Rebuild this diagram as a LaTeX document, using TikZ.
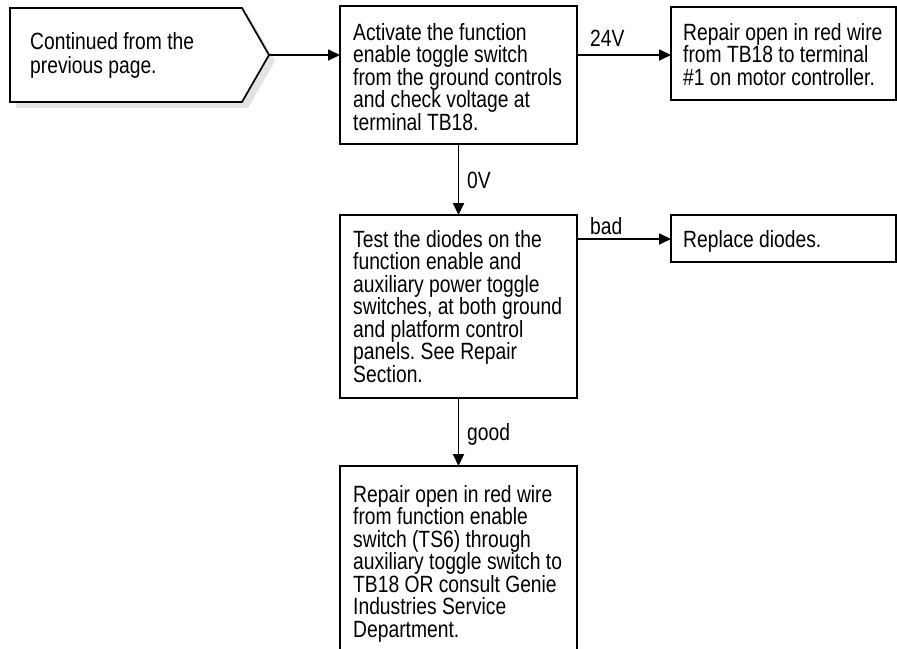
\documentclass[tikz,border=0pt]{standalone}
\usepackage{fontspec}
\setmainfont{Liberation Sans}[FakeStretch=0.82]
\usetikzlibrary{arrows.meta}
\newcommand\mystrut{\rule{0pt}{18pt}}
\frenchspacing
\begin{document}
\begin{tikzpicture}[x=1pt,y=-1pt,
  box/.style={draw, line width=1.7pt, fill=white, inner sep=0pt, outer sep=0pt, anchor=north west},
  txt/.style={anchor=north west, align=left, inner sep=0pt, font=\fontsize{23.5}{22.5}\selectfont},
  lbl/.style={anchor=base west, inner sep=0pt, font=\fontsize{23.5}{22.5}\selectfont},
  conn/.style={line width=1.7pt, -{Triangle[length=12pt,width=11pt]}}
]
\clip (0,0) rectangle (897,648);
% start pentagon with shadow
\fill[gray!22] (16,14) -- (248,14) -- (275,61) -- (248,108) -- (16,108) -- cycle;
\draw[line width=1.7pt, fill=white] (10,8) -- (242,8) -- (269,55) -- (242,102) -- (10,102) -- cycle;
\coordinate (tip) at (269,55);
\node[txt, font=\fontsize{23.5}{24}\selectfont] (t0) at (30,31) {\mystrut Continued from the\\previous page.};
% boxes
\node[box, minimum width=237pt, minimum height=138pt] (b1) at (340,6) {};
\node[box, minimum width=225pt, minimum height=93pt] (b3) at (671,7) {};
\node[box, minimum width=237pt, minimum height=183pt] (b2) at (340,215) {};
\node[box, minimum width=225pt, minimum height=47pt] (b4) at (671,215) {};
\node[box, minimum width=237pt, minimum height=200pt] (b5) at (340,466) {};
\coordinate (badrow) at (0,239);
% texts
\node[txt] (t1) at (353,22) {\mystrut Activate the function\\enable toggle switch\\from the ground controls\\and check voltage at\\terminal TB18.};
\node[txt] (t3) at (683,22) {\mystrut Repair open in red wire\\from TB18 to terminal\\\#1 on motor controller.};
\node[txt] (t2) at (353,229) {\mystrut Test the diodes on the\\function enable and\\auxiliary power toggle\\switches, at both ground\\and platform control\\panels. See Repair\\Section.};
\node[txt] (t4) at (683,229) {\mystrut Replace diodes.};
\node[txt] (t5) at (353,484) {\mystrut Repair open in red wire\\from function enable\\switch (TS6) through\\auxiliary toggle switch to\\TB18 OR consult Genie\\Industries Service\\Department.};
% connectors
\draw[conn] (tip) -- (tip -| b1.west);
\draw[conn] (b1.east |- tip) -- (b3.west |- tip);
\draw[conn] (b1.south) -- (b2.north);
\draw[conn] (b2.east |- badrow) -- (b4.west |- badrow);
\draw[conn] (b2.south) -- (b5.north);
% labels
\node[lbl] (l1) at (590,46) {24V};
\node[lbl] (l2) at (467,188.5) {0V};
\node[lbl] (l3) at (590,234) {bad};
\node[lbl] (l4) at (467,440) {good};
\end{tikzpicture}
\end{document}
